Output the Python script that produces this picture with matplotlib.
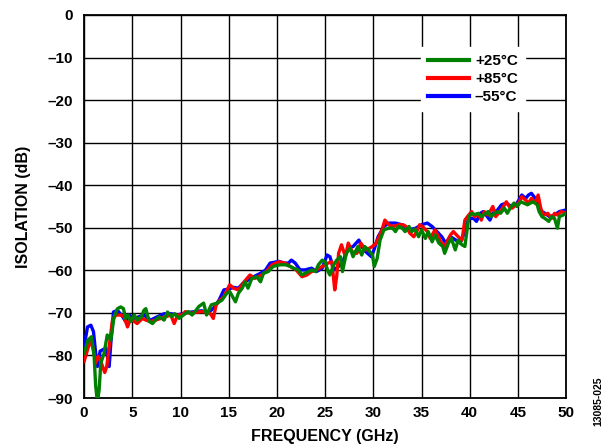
import numpy as np
import matplotlib
matplotlib.use("Agg")
import matplotlib.pyplot as plt

plt.rcParams["font.family"] = ["Liberation Sans", "DejaVu Sans"]
plt.rcParams["font.weight"] = "bold"

# +25 C
f_25 = [0.0, 0.4, 0.76, 1.04, 1.2, 1.38, 1.56, 1.73, 2.07, 2.4, 2.77, 3.1, 3.46, 3.8, 4.08, 4.3,
        4.56, 4.84, 5.2, 5.5, 5.95, 6.2, 6.4, 6.74, 7.1, 7.4, 7.8, 8.3, 8.65, 9.06, 9.4, 9.86,
        10.3, 10.8, 11.2, 11.5, 11.9, 12.4, 12.7, 13.2, 13.8, 14.3, 14.8, 15.1, 15.7, 16.0,
        16.4, 16.7, 17.0, 17.4, 17.9, 18.3, 18.6, 19.1, 19.6, 20.3, 20.9, 21.4, 21.7, 22.2,
        22.6, 22.9, 23.3, 23.6, 24.0, 24.3, 24.7, 25.0, 25.3, 25.5, 25.9, 26.2, 26.6, 26.8,
        27.2, 27.6, 27.9, 28.4, 28.8, 29.1, 29.5, 29.9, 30.1, 30.4, 30.7, 31.1, 31.6, 32.0,
        32.3, 32.6, 33.0, 33.3, 33.7, 34.0, 34.3, 34.7, 35.0, 35.4, 35.7, 36.1, 36.4, 36.8,
        37.2, 37.4, 37.8, 38.1, 38.5, 38.8, 39.2, 39.5, 39.9, 40.2, 40.5, 40.9, 41.2, 41.5,
        41.9, 42.2, 42.6, 42.9, 43.2, 43.6, 43.9, 44.3, 44.6, 44.9, 45.3, 45.6, 46.0, 46.3,
        46.6, 47.0, 47.2, 47.5, 47.8, 48.2, 48.5, 48.8, 49.1, 49.3, 49.7, 50.0]
iso_25 = [-79.5, -76.4, -75.6, -80.2, -87.2, -91.0, -88.0, -81.8, -79.5, -75.2, -76.4, -71.0,
          -69.0, -68.6, -69.0, -71.3, -70.5, -72.0, -70.5, -71.7, -70.9, -69.4, -69.0, -72.0,
          -72.5, -71.7, -70.9, -71.7, -69.8, -70.9, -70.2, -71.3, -70.5, -69.7, -70.5, -69.7,
          -68.5, -67.7, -70.5, -68.1, -67.7, -67.0, -65.4, -65.0, -67.4, -65.4, -64.2, -62.7,
          -64.2, -61.9, -61.5, -62.7, -60.7, -60.3, -59.1, -58.7, -58.7, -59.1, -59.5, -59.9,
          -61.1, -60.7, -60.3, -59.9, -60.3, -58.7, -57.6, -58.0, -60.3, -61.1, -58.7, -57.6,
          -56.8, -60.3, -56.0, -54.8, -56.8, -54.4, -56.4, -54.4, -55.2, -56.4, -59.1, -57.2,
          -52.9, -50.5, -50.1, -50.1, -50.9, -49.7, -50.1, -50.9, -49.7, -50.9, -50.3, -52.1,
          -50.5, -52.5, -50.9, -53.3, -51.7, -53.6, -54.4, -56.0, -53.6, -52.5, -55.2, -52.9,
          -54.0, -54.4, -47.5, -46.6, -46.9, -46.6, -47.4, -46.9, -46.2, -47.4, -46.6, -46.2,
          -46.6, -45.4, -46.6, -45.0, -44.2, -45.0, -43.9, -44.2, -44.6, -44.2, -43.9, -44.6,
          -46.2, -47.4, -47.8, -48.5, -47.4, -47.8, -50.1, -47.4, -47.0, -46.6]

# +85 C
f_85 = [0.0, 0.4, 0.7, 0.97, 1.2, 1.45, 1.73, 2.14, 2.35, 2.6, 2.94, 3.3, 3.8, 4.15, 4.5, 4.84,
        5.2, 5.5, 6.05, 6.4, 6.9, 7.4, 7.95, 8.47, 9.0, 9.34, 9.7, 10.2, 10.5, 11.0, 11.5, 12.2,
        12.8, 13.1, 13.4, 13.7, 14.1, 14.5, 15.1, 15.5, 16.0, 16.6, 17.2, 17.7, 18.4, 18.9,
        19.5, 20.2, 20.8, 21.4, 22.0, 22.6, 23.1, 23.6, 24.1, 24.7, 25.3, 25.7, 26.0, 26.2,
        26.4, 26.7, 27.1, 27.4, 27.8, 28.3, 28.7, 29.2, 29.6, 29.9, 30.3, 30.9, 31.2, 31.6,
        32.1, 32.6, 33.1, 33.4, 33.8, 34.2, 34.5, 34.8, 35.1, 35.6, 35.9, 36.4, 37.0, 37.4,
        38.0, 38.3, 38.8, 39.2, 39.5, 39.9, 40.2, 40.5, 40.9, 41.2, 41.5, 41.9, 42.4, 42.7,
        43.1, 43.4, 43.8, 44.1, 44.4, 44.8, 45.1, 45.4, 45.8, 46.1, 46.4, 46.8, 47.1, 47.4,
        47.7, 48.1, 48.5, 48.8, 49.1, 49.5, 50.0]
iso_85 = [-81.4, -78.3, -76.4, -78.7, -81.8, -80.2, -81.4, -84.0, -82.6, -77.9, -71.7, -70.5,
          -70.5, -70.9, -73.3, -71.3, -72.0, -72.5, -71.3, -71.7, -72.0, -71.7, -71.3, -70.9,
          -70.5, -72.5, -70.5, -70.5, -69.7, -70.1, -69.9, -69.7, -69.9, -70.2, -71.3, -68.1,
          -67.0, -66.2, -63.4, -64.2, -64.6, -62.7, -61.1, -61.9, -61.1, -60.3, -58.7, -58.0,
          -58.3, -59.1, -59.9, -61.5, -61.1, -60.3, -59.9, -59.1, -58.3, -58.0, -64.6, -61.5,
          -56.0, -54.0, -56.8, -53.6, -55.6, -56.0, -53.6, -55.2, -54.8, -54.4, -53.6, -50.5,
          -48.2, -49.3, -49.7, -49.3, -49.3, -49.7, -51.3, -52.1, -50.9, -49.3, -49.7, -50.9,
          -52.5, -50.5, -53.3, -54.4, -51.7, -50.9, -52.1, -52.9, -48.2, -47.0, -46.2, -47.4,
          -46.8, -48.2, -46.2, -47.0, -45.0, -47.4, -46.2, -45.4, -43.9, -45.0, -45.4, -44.6,
          -44.2, -42.7, -43.5, -44.2, -43.1, -44.2, -42.3, -45.8, -47.0, -46.6, -47.8, -46.6,
          -47.0, -46.2, -46.6]

# -55 C
f_55 = [0.0, 0.35, 0.7, 0.97, 1.2, 1.38, 1.66, 1.9, 2.25, 2.6, 2.77, 3.04, 3.46, 4.0, 4.3, 4.67,
        5.2, 5.7, 6.2, 6.9, 7.6, 8.3, 9.0, 9.7, 10.2, 10.8, 11.5, 12.2, 12.8, 13.4, 14.0, 14.5,
        15.0, 15.5, 16.0, 16.5, 17.0, 17.6, 18.3, 18.8, 19.3, 20.2, 20.8, 21.2, 21.5, 21.9,
        22.4, 22.9, 23.6, 24.1, 24.7, 25.2, 25.5, 25.9, 26.4, 26.9, 27.4, 27.9, 28.5, 29.0,
        29.4, 29.8, 30.1, 30.5, 31.1, 31.6, 32.3, 33.0, 33.7, 34.4, 35.0, 35.6, 36.1, 36.6,
        37.1, 37.5, 38.0, 38.5, 39.0, 39.5, 39.9, 40.4, 40.7, 41.1, 41.4, 41.7, 42.1, 42.4,
        42.9, 43.3, 43.8, 44.3, 44.8, 45.1, 45.4, 45.8, 46.1, 46.4, 46.8, 47.1, 47.5, 47.8,
        48.3, 48.8, 49.3, 50.0]
iso_55 = [-78.0, -73.3, -72.9, -74.4, -79.5, -82.6, -79.0, -78.7, -78.3, -82.6, -77.1, -69.8,
          -69.4, -70.9, -72.0, -70.5, -71.3, -70.9, -70.5, -71.7, -70.9, -70.2, -70.2, -70.5,
          -70.2, -69.9, -69.7, -69.5, -70.0, -69.0, -67.0, -64.6, -64.4, -64.0, -64.2, -63.0,
          -62.3, -61.5, -60.7, -60.0, -58.3, -57.9, -58.3, -58.3, -57.6, -58.3, -59.9, -59.9,
          -59.5, -60.3, -59.5, -56.4, -56.8, -59.9, -59.1, -57.6, -54.8, -54.4, -52.9, -55.2,
          -56.0, -56.8, -55.0, -52.1, -49.7, -48.9, -48.9, -49.3, -50.5, -50.1, -49.3, -48.9,
          -49.7, -50.9, -52.1, -53.6, -52.1, -52.8, -53.6, -50.9, -47.8, -47.8, -48.5, -46.6,
          -46.2, -47.0, -48.2, -46.6, -45.8, -44.6, -44.2, -45.0, -44.6, -43.5, -42.3, -43.1,
          -42.3, -41.9, -43.1, -44.6, -46.2, -46.6, -47.4, -47.0, -46.2, -45.8]

x_ticks = [0, 5, 10, 15, 20, 25, 30, 35, 40, 45, 50]
y_ticks = [0, -10, -20, -30, -40, -50, -60, -70, -80, -90]

fig = plt.figure(figsize=(6.14, 4.48), dpi=100)
ax = fig.add_axes([0.137, 0.1116, 0.785, 0.855])

ax.plot(f_55, iso_55, color="#0000ff", lw=2.4, label="\u201355°C", zorder=3)
ax.plot(f_85, iso_85, color="#ff0000", lw=2.4, label="+85°C", zorder=4)
ax.plot(f_25, iso_25, color="#008000", lw=2.4, label="+25°C", zorder=5)

ax.set_xlim(0, 50)
ax.set_ylim(-90, 0)
ax.set_xticks(x_ticks)
ax.set_yticks(y_ticks)
ax.set_yticklabels([str(v).replace("-", "\u2013") for v in y_ticks])
ax.tick_params(length=0, labelsize=11)
ax.tick_params(axis="y", pad=8)
ax.tick_params(axis="x", pad=6)
for lab in ax.get_xticklabels() + ax.get_yticklabels():
    lab.set_fontweight("bold")

ax.grid(True, color="black", lw=1.0)
for s in ax.spines.values():
    s.set_linewidth(1.3)

ax.set_xlabel("FREQUENCY (GHz)", fontsize=11.5, fontweight="bold", labelpad=6)
ax.set_ylabel("ISOLATION (dB)", fontsize=11.5, fontweight="bold", labelpad=12)

h, l = ax.get_legend_handles_labels()
order = [2, 1, 0]
leg = ax.legend([h[i] for i in order], [l[i] for i in order], loc="upper right",
                bbox_to_anchor=(0.93, 0.935), frameon=True, fancybox=False,
                edgecolor="white", facecolor="white", framealpha=1,
                prop={"weight": "bold", "size": 11},
                handlelength=2.7, handletextpad=0.4, labelspacing=0.25, borderpad=0.45)
for line in leg.get_lines():
    line.set_linewidth(3.0)
leg.set_zorder(10)

fig.text(0.975, 0.105, "13085-025", rotation=90, fontsize=7.5, ha="center", va="center")

fig.savefig("out.png", dpi=100)
